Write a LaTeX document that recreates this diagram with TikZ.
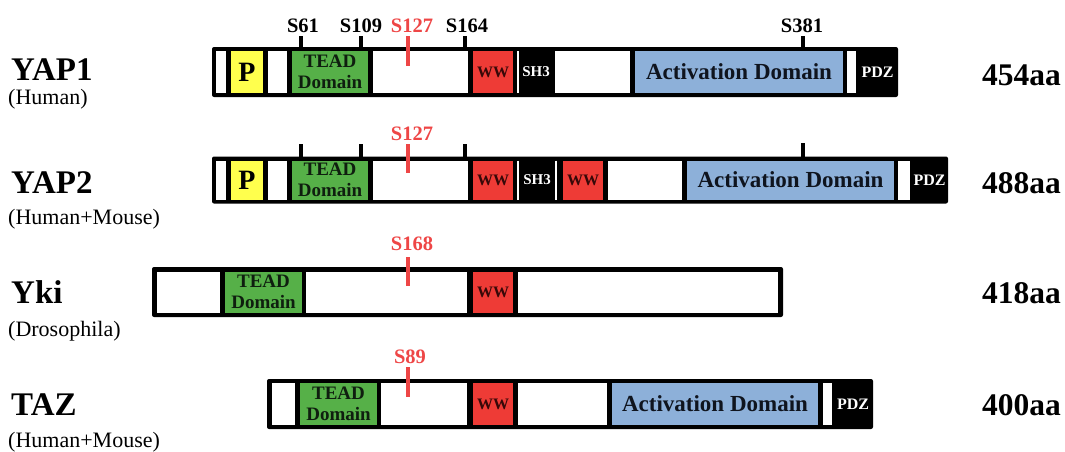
\documentclass[tikz,border=0pt]{standalone}
\usepackage{fontspec}
\setmainfont{Liberation Serif}
\definecolor{pyellow}{RGB}{255,255,77}
\definecolor{tgreen}{RGB}{86,176,72}
\definecolor{wwred}{RGB}{238,59,54}
\definecolor{sred}{RGB}{238,70,70}
\definecolor{actblue}{RGB}{141,176,217}
\definecolor{wwtext}{RGB}{55,8,8}
\definecolor{dtext}{RGB}{15,20,30}
\definecolor{ttext}{RGB}{15,30,15}
\newcommand\Bar[5]{\node[barbox,minimum width={(#3)-(#2)},minimum height={(#5)-(#4)}] (#1) at (#2,#4) {};}
\newcommand\Dom[7]{\node[dombox,#6,minimum width={(#3)-(#2)},minimum height={(#5)-(#4)}] (#1) at (#2,#4) {#7};}
\tikzset{
  barbox/.style={fill=black,rounded corners=2pt,inner sep=0pt,outer sep=0pt,anchor=north west},
  dombox/.style={inner sep=0pt,outer sep=0pt,anchor=north west,align=center,font=\bfseries},
  wbox/.style={fill=white},
  pbox/.style={fill=pyellow,font=\bfseries\fontsize{28}{28}\selectfont,text=black},
  tbox/.style={fill=tgreen,font=\bfseries\fontsize{19}{21.5}\selectfont,text=ttext},
  wwbox/.style={fill=wwred,font=\bfseries\fontsize{16}{16}\selectfont,text=wwtext},
  shbox/.style={fill=black,font=\bfseries\fontsize{15}{15}\selectfont,text=white},
  abox/.style={fill=actblue,font=\bfseries\fontsize{23}{23}\selectfont,text=dtext},
  pdzbox/.style={fill=black,font=\bfseries\fontsize{16}{16}\selectfont,text=white},
  sepline/.style={draw=white,line width=1.2pt},
  tickline/.style={draw=black,line width=4pt},
  rtickline/.style={draw=sred,line width=4pt},
  slab/.style={font=\bfseries\fontsize{20.5}{20.5}\selectfont,anchor=base,inner sep=0pt},
  rlab/.style={slab,text=sred},
  namelab/.style={font=\bfseries\fontsize{33}{33}\selectfont,anchor=base west,inner sep=0pt},
  spelab/.style={font=\fontsize{22}{22}\selectfont,anchor=base west,inner sep=0pt},
  sizelab/.style={font=\bfseries\fontsize{31.5}{31.5}\selectfont,anchor=base east,inner sep=0pt}
}
\begin{document}
\begin{tikzpicture}[x=1pt,y=-1pt]
\useasboundingbox (0,0) rectangle (1065,451);

% ---------------- YAP1 ----------------
\Bar{yapone}{212}{898}{47}{97}
\Dom{a1}{216}{226}{51}{93}{wbox}{}
\Dom{a2}{231}{263}{51}{93}{pbox}{P}
\Dom{a3}{268}{287}{51}{93}{wbox}{}
\Dom{a4}{292}{368}{51}{93}{tbox}{TEAD\\Domain}
\Dom{a5}{373}{468}{51}{93}{wbox}{}
\Dom{a6}{473}{513}{51}{93}{wwbox}{WW}
\Dom{a7}{518}{554}{51}{93}{shbox}{SH3}
\draw[sepline] (a7.north west) -- (a7.south west);
\Dom{a8}{555}{630}{51}{93}{wbox}{}
\Dom{a9}{635}{843}{51}{93}{abox}{Activation Domain}
\Dom{a10}{847}{856}{51}{93}{wbox}{}
\Dom{a11}{857}{898}{51}{93}{pdzbox}{PDZ}

\node[slab] (l61) at (303,32) {S61};
\node[slab] (l109) at (361,32) {S109};
\node[rlab] (l127) at (412,32) {S127};
\node[slab] (l164) at (467,32) {S164};
\node[slab] (l381) at (802,32) {S381};
\coordinate (k61) at (301,36);
\coordinate (k109) at (361,36);
\coordinate (k164) at (465,36);
\coordinate (k381) at (803,36);
\coordinate (r1a) at (408,36);
\coordinate (r1b) at (408,66);
\draw[tickline] (k61) -- (k61 |- yapone.north);
\draw[tickline] (k109) -- (k109 |- yapone.north);
\draw[tickline] (k164) -- (k164 |- yapone.north);
\draw[tickline] (k381) -- (k381 |- yapone.north);
\draw[rtickline] (r1a) -- (r1b);

\node[namelab] (n1) at (11,80) {YAP1};
\node[spelab] (sp1) at (8,104) {(Human)};
\node[sizelab] (z1) at (1061,85) {454aa};

% ---------------- YAP2 ----------------
\Bar{yaptwo}{212}{948}{156.5}{203.5}
\Dom{b1}{216}{226}{160.5}{199.5}{wbox}{}
\Dom{b2}{231}{263}{160.5}{199.5}{pbox}{P}
\Dom{b3}{268}{287}{160.5}{199.5}{wbox}{}
\Dom{b4}{292}{368}{160.5}{199.5}{tbox}{TEAD\\Domain}
\Dom{b5}{373}{468}{160.5}{199.5}{wbox}{}
\Dom{b6}{473}{513}{160.5}{199.5}{wwbox}{WW}
\Dom{b7}{518}{556}{160.5}{199.5}{shbox}{SH3}
\draw[sepline] (b7.north west) -- (b7.south west);
\draw[sepline] (b7.north east) -- (b7.south east);
\Dom{b8}{563}{603}{160.5}{199.5}{wwbox}{WW}
\Dom{b9}{608}{682}{160.5}{199.5}{wbox}{}
\Dom{b10}{687}{894}{160.5}{199.5}{abox}{Activation Domain}
\Dom{b11}{898}{910}{160.5}{199.5}{wbox}{}
\Dom{b12}{911}{948}{160.5}{199.5}{pdzbox}{PDZ}

\node[rlab] (m127) at (412,140) {S127};
\coordinate (j61) at (301,144);
\coordinate (j109) at (361,144);
\coordinate (j164) at (465,144);
\coordinate (j381) at (803,143);
\coordinate (r2a) at (408,144);
\coordinate (r2b) at (408,173);
\draw[tickline] (j61) -- (j61 |- yaptwo.north);
\draw[tickline] (j109) -- (j109 |- yaptwo.north);
\draw[tickline] (j164) -- (j164 |- yaptwo.north);
\draw[tickline] (j381) -- (j381 |- yaptwo.north);
\draw[rtickline] (r2a) -- (r2b);

\node[namelab] (n2) at (11,193) {YAP2};
\node[spelab] (sp2) at (8,224) {(Human+Mouse)};
\node[sizelab] (z2) at (1061,193) {488aa};

% ---------------- Yki ----------------
\Bar{yki}{152}{783}{267}{317}
\Dom{c1}{157}{220}{271.5}{312.5}{wbox}{}
\Dom{c2}{225}{302}{271.5}{312.5}{tbox}{TEAD\\Domain}
\Dom{c3}{306}{467}{271.5}{312.5}{wbox}{}
\Dom{c4}{473}{513}{271.5}{312.5}{wwbox}{WW}
\Dom{c5}{518}{778}{271.5}{312.5}{wbox}{}

\node[rlab] (m168) at (412,250) {S168};
\coordinate (r3a) at (408,257);
\coordinate (r3b) at (408,286);
\draw[rtickline] (r3a) -- (r3b);

\node[namelab] (n3) at (11,303) {Yki};
\node[spelab] (sp3) at (8,336) {(Drosophila)};
\node[sizelab] (z3) at (1061,303) {418aa};

% ---------------- TAZ ----------------
\Bar{taz}{267}{873}{379}{429}
\Dom{d1}{272}{295}{383}{425}{wbox}{}
\Dom{d2}{300}{377}{383}{425}{tbox}{TEAD\\Domain}
\Dom{d3}{381}{467}{383}{425}{wbox}{}
\Dom{d4}{473}{513}{383}{425}{wwbox}{WW}
\Dom{d5}{518}{607}{383}{425}{wbox}{}
\Dom{d6}{612}{818}{383}{425}{abox}{Activation Domain}
\Dom{d7}{823}{832}{383}{425}{wbox}{}
\Dom{d8}{833}{873}{383}{425}{pdzbox}{PDZ}

\node[rlab] (m89) at (410,363) {S89};
\coordinate (r4a) at (408,367);
\coordinate (r4b) at (408,397);
\draw[rtickline] (r4a) -- (r4b);

\node[namelab] (n4) at (11,415) {TAZ};
\node[spelab] (sp4) at (8,447) {(Human+Mouse)};
\node[sizelab] (z4) at (1061,415) {400aa};
\end{tikzpicture}
\end{document}
